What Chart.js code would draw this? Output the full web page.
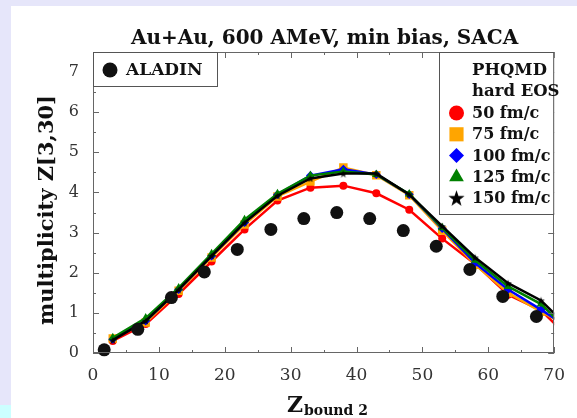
<!DOCTYPE html>
<html>
<head>
<meta charset="utf-8">
<script src="https://cdn.jsdelivr.net/npm/chart.js@4/dist/chart.umd.min.js"></script>
<style>
  html, body { margin: 0; padding: 0; background: #e6e6fa; }
  canvas { display: block; }
</style>
</head>
<body>
<canvas id="chart" width="577" height="418"></canvas>
<script>
// ALADIN data
const aladinZ = [1.7, 6.8, 11.9, 16.9, 21.9, 27, 32, 37, 42, 47.1, 52.1, 57.2, 62.2, 67.3];
const aladinM = [0.08, 0.59, 1.38, 2.02, 2.58, 3.08, 3.35, 3.5, 3.35, 3.05, 2.66, 2.08, 1.41, 0.91];

// PHQMD hard EOS, different times
const modelZ = [3, 8, 13, 18, 23, 28, 33, 38, 43, 48, 53, 58, 63, 68, 73];
const m50  = [0.30, 0.72, 1.47, 2.28, 3.08, 3.80, 4.12, 4.17, 3.98, 3.57, 2.85, 2.22, 1.45, 1.06, 0.27];
const m75  = [0.36, 0.76, 1.55, 2.38, 3.20, 3.90, 4.27, 4.62, 4.43, 3.93, 3.05, 2.20, 1.50, 1.03, 0.60];
const m100 = [0.34, 0.80, 1.58, 2.42, 3.25, 3.95, 4.42, 4.58, 4.45, 3.95, 3.10, 2.24, 1.58, 1.08, 0.55];
const m125 = [0.38, 0.87, 1.62, 2.47, 3.32, 3.97, 4.42, 4.52, 4.45, 3.96, 3.12, 2.31, 1.66, 1.22, 0.42];
const m150 = [0.32, 0.80, 1.58, 2.42, 3.25, 3.92, 4.35, 4.47, 4.47, 3.95, 3.16, 2.38, 1.74, 1.31, 0.50];

const xTicks = [0, 10, 20, 30, 40, 50, 60, 70];
const yTicks = [0, 1, 2, 3, 4, 5, 6, 7];

const serif = '"DejaVu Serif", serif';

function makeStar(size) {
  const c = document.createElement('canvas');
  c.width = c.height = size;
  const g = c.getContext('2d');
  g.fillStyle = '#000';
  g.beginPath();
  for (let i = 0; i < 10; i++) {
    const r = i % 2 ? size * 0.2 : size * 0.5;
    const a = -Math.PI / 2 + i * Math.PI / 5;
    const px = size / 2 + r * Math.cos(a), py = size / 2 + 0.5 + r * Math.sin(a);
    if (i === 0) g.moveTo(px, py); else g.lineTo(px, py);
  }
  g.closePath();
  g.fill();
  return c;
}
const starSmall = makeStar(8);
const starBig = makeStar(17);

const toPts = (xs, ys) => xs.map((x, i) => ({ x: x, y: ys[i] }));

const models = [
  { label: '150 fm/c', data: m150, color: '#000000', style: starSmall, r: 4, legendStyle: starBig, lr: 8 },
  { label: '125 fm/c', data: m125, color: '#008000', style: 'triangle', r: 5, legendStyle: 'triangle', lr: 8.5 },
  { label: '100 fm/c', data: m100, color: '#0000ff', style: 'rectRot', r: 4.5, legendStyle: 'rectRot', lr: 7.5 },
  { label: '75 fm/c', data: m75, color: '#ffa500', style: 'rect', r: 6, legendStyle: 'rect', lr: 10 },
  { label: '50 fm/c', data: m50, color: '#ff0000', style: 'circle', r: 4, legendStyle: 'circle', lr: 7.5 }
];

const datasets = [{
  label: 'ALADIN',
  data: toPts(aladinZ, aladinM),
  showLine: false,
  pointStyle: 'circle',
  pointRadius: 6.5,
  backgroundColor: '#111',
  borderColor: '#111',
  borderWidth: 0,
  clip: false
}].concat(models.map(m => ({
  label: m.label,
  data: toPts(modelZ, m.data),
  showLine: true,
  borderColor: m.color,
  backgroundColor: m.color,
  borderWidth: 2.5,
  pointStyle: m.style,
  pointRadius: m.r,
  pointBorderWidth: 0,
  clip: 0
})));

const decor = {
  id: 'decor',
  beforeDraw(chart) {
    const ctx = chart.ctx;
    ctx.save();
    ctx.fillStyle = '#e6e6fa';
    ctx.fillRect(0, 0, chart.width, chart.height);
    ctx.fillStyle = '#ffffff';
    ctx.fillRect(11, 6, chart.width - 11, chart.height - 6);
    ctx.fillStyle = '#ccffff';
    ctx.fillRect(0, 405, 11, chart.height - 405);
    ctx.restore();
  },
  afterDatasetsDraw(chart) {
    const ctx = chart.ctx;
    const a = chart.chartArea;
    const xs = chart.scales.x, ys = chart.scales.y;
    ctx.save();
    ctx.strokeStyle = '#666';
    ctx.lineWidth = 1;
    ctx.strokeRect(Math.round(a.left) + 0.5, Math.round(a.top) + 0.5, Math.round(a.right - a.left) - 1, Math.round(a.bottom - a.top) - 1);
    // inward ticks, minor halfway
    ctx.beginPath();
    for (let v = xs.min; v <= xs.max; v += 5) {
      const px = Math.round(xs.getPixelForValue(v)) + 0.5;
      const len = xTicks.includes(v) ? 6 : 3;
      ctx.moveTo(px, a.bottom); ctx.lineTo(px, a.bottom - len);
      ctx.moveTo(px, a.top); ctx.lineTo(px, a.top + len);
    }
    for (let v = ys.min; v <= ys.max; v += 0.5) {
      const py = Math.round(ys.getPixelForValue(v)) + 0.5;
      const len = yTicks.includes(v) ? 6 : 3;
      ctx.moveTo(a.left, py); ctx.lineTo(a.left + len, py);
      ctx.moveTo(a.right, py); ctx.lineTo(a.right - len, py);
    }
    ctx.stroke();

    // ALADIN legend box
    ctx.fillStyle = '#fff';
    ctx.fillRect(a.left + 1, a.top + 1, 123, 33);
    ctx.strokeStyle = '#555';
    ctx.strokeRect(a.left + 0.5, a.top + 0.5, 124, 34);
    ctx.fillStyle = '#111';
    Chart.helpers.drawPoint(ctx, { pointStyle: 'circle', radius: 7.5, borderWidth: 0 }, a.left + 17, a.top + 18);
    ctx.font = 'bold 17px ' + serif;
    ctx.textBaseline = 'middle';
    ctx.textAlign = 'left';
    ctx.fillText('ALADIN', a.left + 33, a.top + 19);

    // PHQMD legend box
    const bx = 439, bw = a.right - bx, bh = 162;
    ctx.fillStyle = '#fff';
    ctx.fillRect(bx, a.top, bw, bh);
    ctx.strokeStyle = '#555';
    ctx.strokeRect(bx + 0.5, a.top + 0.5, bw - 1, bh);
    ctx.fillStyle = '#111';
    ctx.font = 'bold 16.5px ' + serif;
    ctx.fillText('PHQMD', 472, 71);
    ctx.fillText('hard EOS', 472, 92);
    ctx.font = 'bold 16px ' + serif;
    const order = models.slice().reverse();
    order.forEach((m, i) => {
      const yy = 113 + i * 21.3;
      ctx.fillStyle = m.color;
      ctx.strokeStyle = m.color;
      Chart.helpers.drawPoint(ctx, { pointStyle: m.legendStyle, radius: m.lr, borderWidth: 0, rotation: 0 }, 456.5, yy);
      ctx.fillStyle = '#111';
      ctx.fillText(m.label, 472, yy + 1);
    });

    // titles
    ctx.fillStyle = '#111';
    ctx.textAlign = 'center';
    ctx.textBaseline = 'alphabetic';
    ctx.font = 'bold 20px ' + serif;
    ctx.fillText('Au+Au, 600 AMeV, min bias, SACA', (a.left + a.right) / 2 + 1, 44);

    ctx.save();
    ctx.translate(53, 210);
    ctx.rotate(-Math.PI / 2);
    ctx.font = 'bold 21px ' + serif;
    ctx.fillText('multiplicity Z[3,30]', 0, 0);
    ctx.restore();

    ctx.textAlign = 'left';
    ctx.font = 'bold 22px ' + serif;
    ctx.fillText('Z', 287, 412);
    ctx.font = 'bold 14px ' + serif;
    ctx.fillText('bound 2', 304, 415);
    ctx.restore();
  }
};

new Chart(document.getElementById('chart'), {
  type: 'scatter',
  data: { datasets: datasets },
  options: {
    responsive: false,
    animation: false,
    devicePixelRatio: 1,
    layout: { padding: { left: 0, right: 8, top: 52, bottom: 0 } },
    plugins: {
      legend: { display: false },
      tooltip: { enabled: false }
    },
    scales: {
      x: {
        type: 'linear',
        min: 0,
        max: 70,
        afterBuildTicks: s => { s.ticks = xTicks.map(v => ({ value: v })); },
        afterFit: s => { s.height = 65; },
        ticks: { padding: 12, color: '#333', font: { family: serif, size: 17 } },
        grid: { display: false, drawTicks: false },
        border: { display: false }
      },
      y: {
        type: 'linear',
        min: 0,
        max: 7.5,
        afterBuildTicks: s => { s.ticks = yTicks.map(v => ({ value: v })); },
        afterFit: s => { s.width = 93; },
        ticks: { padding: 14, color: '#333', font: { family: serif, size: 16 } },
        grid: { display: false, drawTicks: false },
        border: { display: false }
      }
    }
  },
  plugins: [decor]
});
</script>
</body>
</html>
